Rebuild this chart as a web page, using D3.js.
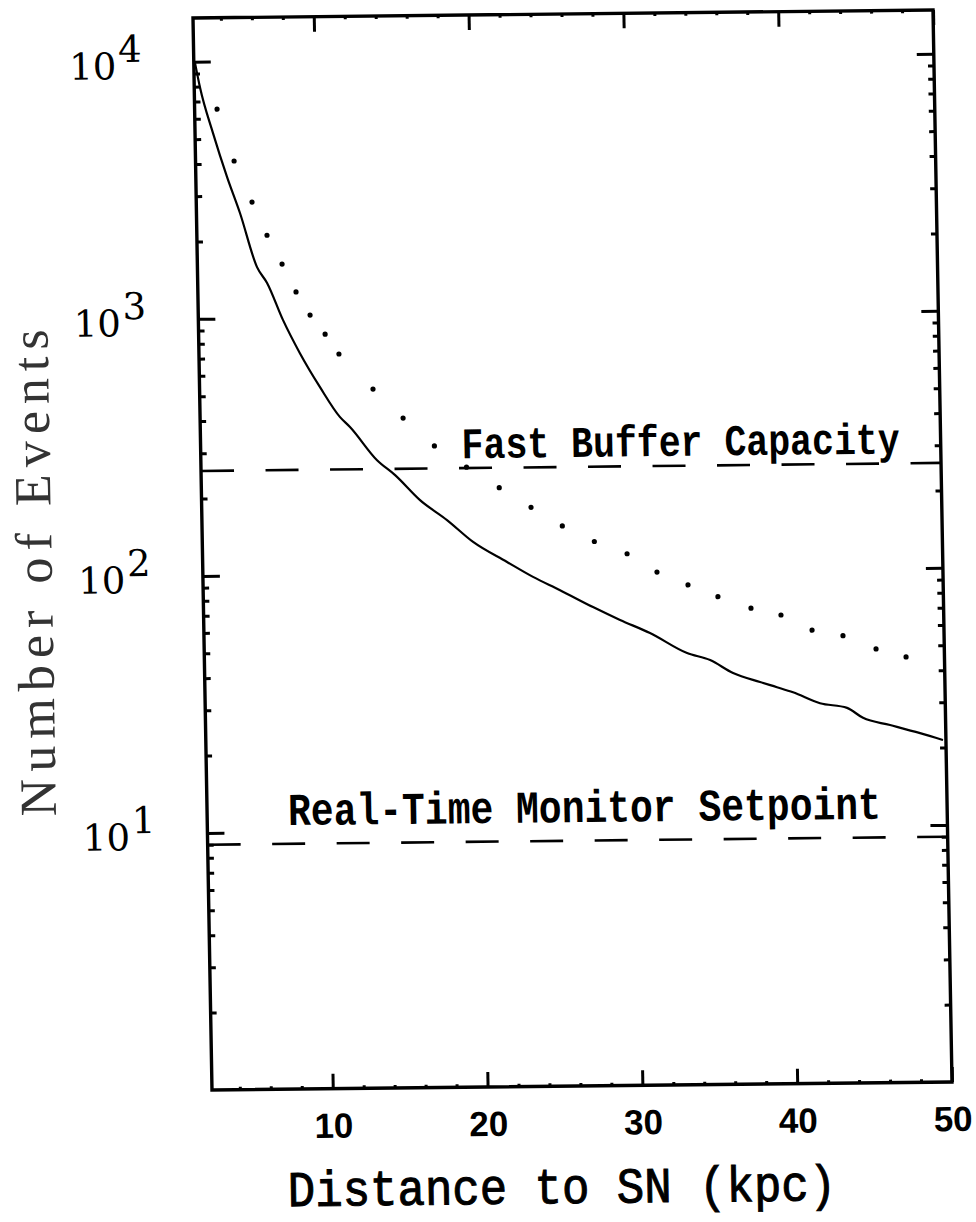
<!DOCTYPE html>
<html>
<head>
<meta charset="utf-8">
<script src="https://cdnjs.cloudflare.com/ajax/libs/d3/7.8.5/d3.min.js"></script>
<style>
  body { margin: 0; background: #fff; }
  svg { display: block; }
</style>
</head>
<body>
<div id="chart"></div>
<script>
// solid curve: events vs distance (kpc)
const solidDist = [2.28, 2.57, 3.36, 4.22, 5.01, 6.05, 6.68, 7.67, 8.72, 9.98, 11.24, 11.87,
    13.58, 14.73, 16.31, 18.03, 19.69, 21.86, 23.52, 25.25, 27.36, 29.09, 31.01, 33.38,
    34.86, 36.33, 38.06, 39.15, 40.18, 41.91, 43.65, 44.67, 46.41, 48.34, 49.81];
const solidEvents = [9880, 7960, 5270, 3550, 2570, 1580, 1370, 980, 728, 536, 409, 374,
    277, 242, 193, 161, 132, 110, 96, 85, 72.8, 64.7, 57.4, 47.8,
    44.8, 39.8, 36.6, 34.9, 33.3, 30.1, 28.8, 26.3, 24.6, 22.8, 21.4];

// dotted curve
const dotDist = [3.65, 4.69, 5.80, 6.73, 7.67, 8.54, 9.42, 10.37, 11.24, 13.40, 15.31, 17.30,
    19.35, 21.44, 23.47, 25.47, 27.52, 29.62, 31.53, 33.52, 35.44, 37.56, 39.49, 41.48,
    43.47, 45.59, 47.52];
const dotEvents = [6530, 4095, 2830, 2100, 1620, 1260, 1023, 861, 720, 524, 403, 313,
    258, 214, 179, 151, 131, 117, 99, 88, 79, 71, 66.6, 58,
    55, 48.7, 45.2];

// horizontal reference levels
const bufferCapacity = 256;
const monitorSetpoint = 9;

const xTicks = [10, 20, 30, 40, 50];
const xMinorTicks = [4, 6, 8, 12, 14, 16, 18, 22, 24, 26, 28, 32, 34, 36, 38, 42, 44, 46, 48];
const yTicks = [10, 100, 1000, 10000];
const yExponents = ["1", "2", "3", "4"];

const width = 976, height = 1222;
const plotW = 740, plotH = 1072;

const svg = d3.select("#chart").append("svg")
    .attr("width", width)
    .attr("height", height);

svg.append("rect").attr("width", width).attr("height", height).attr("fill", "#fff");

// the scanned figure is slightly skewed, so the whole plot gets a small shear
const g = svg.append("g")
    .attr("transform", "matrix(1,-0.01085,0.01772,1,193,18)");

const x = d3.scaleLinear().domain([2.2, 50]).range([0, plotW]);
const y = d3.scaleLog().domain([1, 14800]).range([plotH, 0]);

const yMinor = [];
for (let p = 0; p < 4; p++) {
    for (let m = 2; m <= 9; m++) {
        const v = m * Math.pow(10, p);
        if (v < 14800) yMinor.push(v);
    }
}

g.append("clipPath").attr("id", "clip")
    .append("rect").attr("width", plotW).attr("height", plotH);

function styleAxis(sel) {
    sel.select(".domain").remove();
    sel.selectAll("line").attr("stroke", "#000").attr("stroke-width", 3);
}

// minor ticks
g.append("g").call(d3.axisLeft(y).tickValues(yMinor).tickSize(-6).tickFormat("")).call(styleAxis);
g.append("g").attr("transform", `translate(${plotW},0)`)
    .call(d3.axisRight(y).tickValues(yMinor).tickSize(-6).tickFormat("")).call(styleAxis);
g.append("g").attr("transform", `translate(0,${plotH})`)
    .call(d3.axisBottom(x).tickValues(xMinorTicks).tickSize(-3).tickFormat("")).call(styleAxis);
g.append("g")
    .call(d3.axisTop(x).tickValues(xMinorTicks).tickSize(-3).tickFormat("")).call(styleAxis);

// major ticks
const yAxisL = g.append("g")
    .call(d3.axisLeft(y).tickValues(yTicks).tickSize(-17).tickPadding(52).tickFormat(() => "10"))
    .call(styleAxis);
yAxisL.selectAll("text")
    .attr("dy", 16)
    .attr("fill", "#000")
    .attr("font-family", "'DejaVu Serif', serif")
    .attr("font-size", 37)
    .append("tspan")
    .attr("dx", 2)
    .attr("dy", -17)
    .text((d, i) => yExponents[i]);

g.append("g").attr("transform", `translate(${plotW},0)`)
    .call(d3.axisRight(y).tickValues(yTicks).tickSize(-17).tickFormat(""))
    .call(styleAxis);

const xAxisB = g.append("g").attr("transform", `translate(0,${plotH})`)
    .call(d3.axisBottom(x).tickValues(xTicks).tickSize(-15).tickPadding(49).tickFormat(d3.format("d")))
    .call(styleAxis);
xAxisB.selectAll("text")
    .attr("y", 49)
    .attr("dy", 0)
    .attr("fill", "#000")
    .attr("font-family", "'Liberation Sans', Arial, sans-serif")
    .attr("font-weight", "bold")
    .attr("font-size", 35);

g.append("g")
    .call(d3.axisTop(x).tickValues(xTicks).tickSize(-15).tickFormat(""))
    .call(styleAxis);

// frame
g.append("rect")
    .attr("width", plotW)
    .attr("height", plotH)
    .attr("fill", "none")
    .attr("stroke", "#000")
    .attr("stroke-width", 3.4);

const plot = g.append("g").attr("clip-path", "url(#clip)");

// reference levels
[bufferCapacity, monitorSetpoint].forEach(level => {
    plot.append("line")
        .attr("x1", 0)
        .attr("x2", plotW)
        .attr("y1", y(level))
        .attr("y2", y(level))
        .attr("stroke", "#000")
        .attr("stroke-width", 2.6)
        .attr("stroke-dasharray", "33,31.5");
});

const solidData = solidDist.map((d, i) => [d, solidEvents[i]]);
const line = d3.line()
    .x(d => x(d[0]))
    .y(d => y(d[1]))
    .curve(d3.curveMonotoneX);

plot.append("path")
    .datum(solidData)
    .attr("d", line)
    .attr("fill", "none")
    .attr("stroke", "#000")
    .attr("stroke-width", 2.2);

const dotData = dotDist.map((d, i) => [d, dotEvents[i]]);
plot.selectAll(".dot")
    .data(dotData)
    .enter()
    .append("circle")
    .attr("class", "dot")
    .attr("cx", d => x(d[0]))
    .attr("cy", d => y(d[1]))
    .attr("r", 2.6)
    .attr("fill", "#000");

// annotations (typewriter face, stretched a little to match the scan)
const mono = "'Liberation Mono', 'Courier New', monospace";
g.append("text")
    .attr("transform", "translate(261,443) scale(1,1.2)")
    .attr("font-family", mono)
    .attr("font-weight", "bold")
    .attr("font-size", 36.5)
    .text("Fast Buffer Capacity");

g.append("text")
    .attr("transform", "translate(81,808) scale(1,1.2)")
    .attr("font-family", mono)
    .attr("font-weight", "bold")
    .attr("font-size", 38)
    .text("Real-Time Monitor Setpoint");

// axis titles
g.append("text")
    .attr("transform", "translate(74,1189) scale(1,1.1)")
    .attr("font-family", mono)
    .attr("font-size", 45.7)
    .attr("stroke", "#000")
    .attr("stroke-width", 0.9)
    .text("Distance to SN (kpc)");

g.append("text")
    .attr("transform", "translate(-151,553) rotate(-90)")
    .attr("text-anchor", "middle")
    .attr("font-family", "'Liberation Serif', serif")
    .attr("font-size", 52)
    .attr("fill", "#333")
    .attr("textLength", 487)
    .attr("lengthAdjust", "spacing")
    .text("Number of Events");
</script>
</body>
</html>
